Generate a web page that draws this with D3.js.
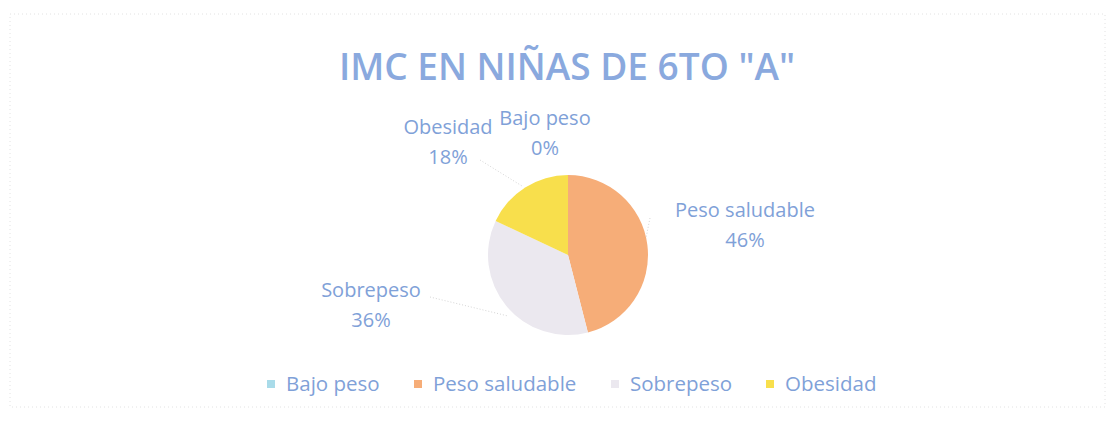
<!DOCTYPE html>
<html>
<head>
<meta charset="utf-8">
<script src="https://cdn.jsdelivr.net/npm/d3@7"></script>
<style>
  body { margin: 0; background: #fff; }
  text { font-family: "Open Sans", sans-serif; }
</style>
</head>
<body>
<script>
const width = 1115, height = 421;

// data
const categories = ["Bajo peso", "Peso saludable", "Sobrepeso", "Obesidad"];
const values = [0, 46, 36, 18];
const sliceColors = ["#a9dbe9", "#f6ad78", "#ebe8ef", "#f8df4c"];
const labelText = ["0%", "46%", "36%", "18%"];

const svg = d3.select("body").append("svg")
    .attr("width", width)
    .attr("height", height);

// faint scanned border
svg.append("rect")
    .attr("x", 10).attr("y", 14)
    .attr("width", width - 20).attr("height", height - 28)
    .attr("fill", "none")
    .attr("stroke", "#e2e2e2")
    .attr("stroke-dasharray", "1,3");

const textColor = "#7fa1d8";

svg.append("text")
    .attr("x", 567).attr("y", 80)
    .attr("text-anchor", "middle")
    .style("font-size", "37px")
    .style("font-weight", "600")
    .style("fill", "#8aa9de")
    .text('IMC EN NIÑAS DE 6TO "A"');

const cx = 568, cy = 255, r = 80;

const pie = d3.pie().sort(null).value(d => d)(values);
const arc = d3.arc().innerRadius(0).outerRadius(r);

const g = svg.append("g").attr("transform", `translate(${cx},${cy})`);

g.selectAll("path")
    .data(pie)
    .join("path")
    .attr("d", arc)
    .attr("fill", (d, i) => sliceColors[i]);

// label positions (label centre) and leader lines
const labelPos = [
    {x: 545, y: 118},
    {x: 745, y: 210},
    {x: 371, y: 290},
    {x: 448, y: 127}
];
const leaders = [
    null,
    [[650, 218], [646, 238]],
    [[430, 297], [508, 316]],
    [[480, 160], [522, 186]]
];

svg.selectAll(".leader")
    .data(leaders.filter(d => d))
    .join("path")
    .attr("class", "leader")
    .attr("d", d => d3.line()(d))
    .attr("fill", "none")
    .attr("stroke", "#d6d6d6")
    .attr("stroke-width", 1)
    .attr("stroke-dasharray", "1,2");

const labels = svg.selectAll(".lbl")
    .data(categories)
    .join("text")
    .attr("class", "lbl")
    .attr("text-anchor", "middle")
    .style("font-size", "20px")
    .style("fill", textColor);

labels.append("tspan")
    .attr("x", (d, i) => labelPos[i].x)
    .attr("y", (d, i) => labelPos[i].y + 7)
    .text(d => d);
labels.append("tspan")
    .attr("x", (d, i) => labelPos[i].x)
    .attr("y", (d, i) => labelPos[i].y + 37)
    .text((d, i) => labelText[i]);

// legend
const legendX = [267, 414, 611, 766];
const legend = svg.selectAll(".leg")
    .data(categories)
    .join("g")
    .attr("class", "leg")
    .attr("transform", (d, i) => `translate(${legendX[i]},384)`);

legend.append("rect")
    .attr("x", 0).attr("y", -4)
    .attr("width", 8).attr("height", 8)
    .attr("fill", (d, i) => sliceColors[i]);

legend.append("text")
    .attr("x", 19).attr("y", 7)
    .style("font-size", "20.5px")
    .style("fill", textColor)
    .text(d => d);
</script>
</body>
</html>
